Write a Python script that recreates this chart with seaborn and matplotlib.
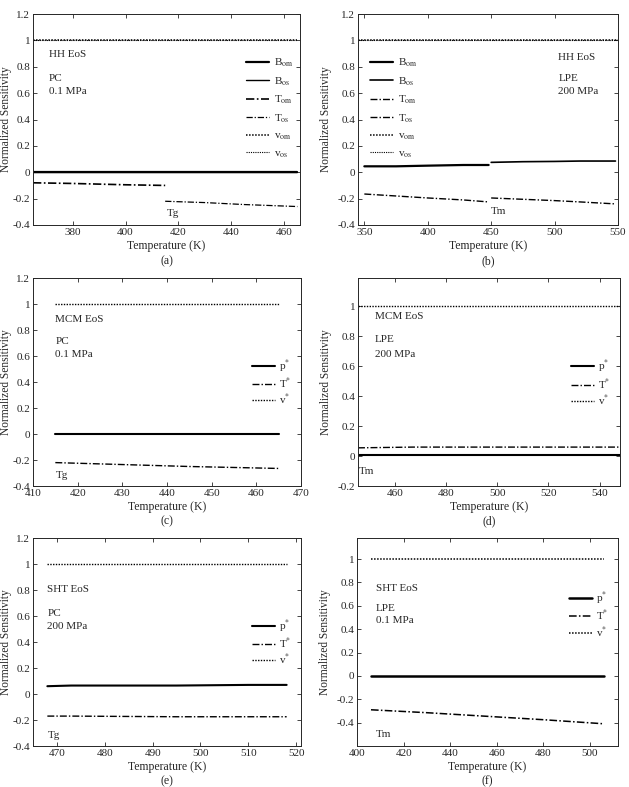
import numpy as np
import pandas as pd
import seaborn as sns
import matplotlib.pyplot as plt

# ---- data ----
# (a) HH EoS, PC, 0.1 MPa
a_x1 = [365, 380, 400, 415]
a_T1 = [-0.08, -0.085, -0.095, -0.10]
a_x2 = [415, 430, 445, 465]
a_T2 = [-0.22, -0.23, -0.245, -0.26]
a_full = [365, 465]

# (b) HH EoS, LPE, 200 MPa
b_x1 = [350, 375, 400, 428, 448]
b_B1 = [0.045, 0.045, 0.05, 0.055, 0.055]
b_T1 = [-0.165, -0.18, -0.195, -0.21, -0.225]
b_x2 = [450, 475, 500, 520, 548]
b_B2 = [0.075, 0.08, 0.082, 0.085, 0.085]
b_T2 = [-0.195, -0.205, -0.215, -0.225, -0.24]
b_full = [345, 550]

# (c) MCM EoS, PC, 0.1 MPa
c_x = [415, 430, 445, 465]
c_p = [0.0, 0.0, 0.0, 0.0]
c_T = [-0.22, -0.235, -0.25, -0.265]
c_v = [1.0, 1.0, 1.0, 1.0]

# (d) MCM EoS, LPE, 200 MPa
d_x = [445.5, 467, 500, 548]
d_p = [0.01, 0.01, 0.01, 0.01]
d_T = [0.055, 0.06, 0.06, 0.06]
d_v = [1.0, 1.0, 1.0, 1.0]

# (e) SHT EoS, PC, 200 MPa
e_x = [468, 473, 495, 510, 518]
e_p = [0.06, 0.065, 0.065, 0.07, 0.07]
e_T = [-0.17, -0.17, -0.175, -0.175, -0.175]
e_v = [1.0, 1.0, 1.0, 1.0, 1.0]

# (f) SHT EoS, LPE, 0.1 MPa
f_x = [406, 430, 455, 480, 506]
f_p = [0.0, 0.0, 0.0, 0.0, 0.0]
f_T = [-0.29, -0.315, -0.345, -0.375, -0.41]
f_v = [1.0, 1.0, 1.0, 1.0, 1.0]

sns.set_style("ticks")
plt.rcParams['font.family'] = ['Liberation Serif', 'DejaVu Serif']
plt.rcParams['mathtext.fontset'] = 'stix'
plt.rcParams['xtick.direction'] = 'in'
plt.rcParams['ytick.direction'] = 'in'
plt.rcParams['xtick.top'] = True
plt.rcParams['ytick.right'] = True
plt.rcParams['font.size'] = 8

SOLID = dict(color='k', linestyle='-')
DASHDOT = dict(color='k', dashes=(5, 1.5, 1, 1.5))
DOT = dict(color='k', dashes=(1, 1))

W, H = 629, 787
fig = plt.figure(figsize=(W / 100, H / 100), dpi=100)


def make_ax(l, r, t, b):
    return fig.add_axes([l / W, (H - b) / H, (r - l) / W, (b - t) / H])


def line(ax, x, y, style, lw, label=None):
    sns.lineplot(x=x, y=y, ax=ax, linewidth=lw, label=label, legend=False, **style)


def finish(ax, xlim, ylim, yticks, xticks, cap, ylab_x):
    ax.set_xlim(*xlim)
    ax.set_ylim(*ylim)
    ax.set_yticks(yticks)
    ax.set_yticklabels(['%g' % t for t in yticks])
    ax.set_xticks(xticks)
    ax.set_xlabel('Temperature (K)', fontsize=8.5, labelpad=2)
    ax.set_ylabel('Normalized Sensitivity', fontsize=8.3)
    ax.yaxis.set_label_coords(ylab_x, 0.5)
    ax.tick_params(labelsize=8, length=3, width=0.6, pad=2)
    for s in ax.spines.values():
        s.set_linewidth(0.7)
    ax.text(0.5, -0.17, cap, transform=ax.transAxes, ha='center', va='center', fontsize=8.5)


def legend(ax, spacing=0.55, **kw):
    ax.legend(frameon=False, fontsize=8, handlelength=2.1, handletextpad=0.4,
              labelspacing=spacing, borderaxespad=0.2, **kw)


y_a = [-0.4, -0.2, 0, 0.2, 0.4, 0.6, 0.8, 1, 1.2]

# (a)
ax = make_ax(33, 300, 14, 225)
line(ax, a_full, [0, 0], SOLID, 1.6, r'B$_{\rm om}$')
line(ax, a_full, [0, 0], SOLID, 1.0, r'B$_{\rm os}$')
line(ax, a_x1, a_T1, DASHDOT, 1.2, r'T$_{\rm om}$')
line(ax, a_x2, a_T2, DASHDOT, 0.9, r'T$_{\rm os}$')
line(ax, a_full, [1, 1], DOT, 1.1, r'v$_{\rm om}$')
line(ax, a_full, [1, 1], DOT, 0.8, r'v$_{\rm os}$')
legend(ax, loc='upper right', bbox_to_anchor=(1.0, 0.83))
ax.text(0.06, 0.89, 'HH EoS', transform=ax.get_yaxis_transform(), va='center')
ax.text(0.06, 0.71, 'PC', transform=ax.get_yaxis_transform(), va='center')
ax.text(0.06, 0.61, '0.1 MPa', transform=ax.get_yaxis_transform(), va='center')
ax.text(415.5, -0.31, 'Tg', va='center')
finish(ax, (365, 466), (-0.4, 1.2), y_a, [380, 400, 420, 440, 460], '(a)', -0.08)

# (b)
ax = make_ax(358, 618, 14, 225)
line(ax, b_x1, b_B1, SOLID, 1.6, r'B$_{\rm om}$')
line(ax, b_x2, b_B2, SOLID, 1.2, r'B$_{\rm os}$')
line(ax, b_x1, b_T1, DASHDOT, 1.0, r'T$_{\rm om}$')
line(ax, b_x2, b_T2, DASHDOT, 1.0, r'T$_{\rm os}$')
line(ax, b_full, [1, 1], DOT, 1.1, r'v$_{\rm om}$')
line(ax, b_full, [1, 1], DOT, 0.8, r'v$_{\rm os}$')
legend(ax, loc='upper left', bbox_to_anchor=(0.02, 0.83))
ax.text(0.77, 0.87, 'HH EoS', transform=ax.get_yaxis_transform(), va='center')
ax.text(0.77, 0.71, 'LPE', transform=ax.get_yaxis_transform(), va='center')
ax.text(0.77, 0.61, '200 MPa', transform=ax.get_yaxis_transform(), va='center')
ax.text(450, -0.3, 'Tm', va='center')
finish(ax, (345, 550), (-0.4, 1.2), y_a, [350, 400, 450, 500, 550], '(b)', -0.1)

# (c)
ax = make_ax(33, 301, 278, 486)
line(ax, c_x, c_p, SOLID, 1.5, r'p$^{*}$')
line(ax, c_x, c_T, DASHDOT, 1.0, r'T$^{*}$')
line(ax, c_x, c_v, DOT, 1.0, r'v$^{*}$')
legend(ax, spacing=0.12, loc='upper right', bbox_to_anchor=(0.99, 0.65))
ax.text(415, 0.88, 'MCM EoS', va='center')
ax.text(415, 0.71, 'PC', va='center')
ax.text(415, 0.61, '0.1 MPa', va='center')
ax.text(415, -0.32, 'Tg', va='center')
finish(ax, (410, 470), (-0.4, 1.2), y_a, [410, 420, 430, 440, 450, 460, 470], '(c)', -0.08)

# (d)
ax = make_ax(358, 620, 278, 486)
line(ax, d_x, d_p, SOLID, 1.5, r'p$^{*}$')
line(ax, d_x, d_T, DASHDOT, 1.0, r'T$^{*}$')
line(ax, d_x, d_v, DOT, 1.0, r'v$^{*}$')
legend(ax, spacing=0.12, loc='upper right', bbox_to_anchor=(0.99, 0.647))
ax.text(452, 0.93, 'MCM EoS', va='center')
ax.text(452, 0.78, 'LPE', va='center')
ax.text(452, 0.68, '200 MPa', va='center')
ax.text(446, -0.1, 'Tm', va='center')
finish(ax, (445.5, 548), (-0.2, 1.19), [-0.2, 0, 0.2, 0.4, 0.6, 0.8, 1],
       [460, 480, 500, 520, 540], '(d)', -0.1)

# (e)
ax = make_ax(33, 301, 538, 746)
line(ax, e_x, e_p, SOLID, 1.5, r'p$^{*}$')
line(ax, e_x, e_T, DASHDOT, 1.0, r'T$^{*}$')
line(ax, e_x, e_v, DOT, 1.0, r'v$^{*}$')
legend(ax, spacing=0.12, loc='upper right', bbox_to_anchor=(0.99, 0.65))
ax.text(468, 0.8, 'SHT EoS', va='center')
ax.text(468, 0.62, 'PC', va='center')
ax.text(468, 0.52, '200 MPa', va='center')
ax.text(468, -0.32, 'Tg', va='center')
finish(ax, (465, 521), (-0.4, 1.2), y_a, [470, 480, 490, 500, 510, 520], '(e)', -0.08)

# (f)
ax = make_ax(357, 618, 538, 746)
line(ax, f_x, f_p, SOLID, 1.8, r'p$^{*}$')
line(ax, f_x, f_T, DASHDOT, 1.1, r'T$^{*}$')
line(ax, f_x, f_v, DOT, 1.1, r'v$^{*}$')
legend(ax, spacing=0.12, loc='upper right', bbox_to_anchor=(0.99, 0.783))
ax.text(408, 0.75, 'SHT EoS', va='center')
ax.text(408, 0.58, 'LPE', va='center')
ax.text(408, 0.47, '0.1 MPa', va='center')
ax.text(408, -0.5, 'Tm', va='center')
finish(ax, (400, 512), (-0.6, 1.18), [-0.4, -0.2, 0, 0.2, 0.4, 0.6, 0.8, 1],
       [400, 420, 440, 460, 480, 500], '(f)', -0.1)

fig.savefig('out.png', dpi=100)
